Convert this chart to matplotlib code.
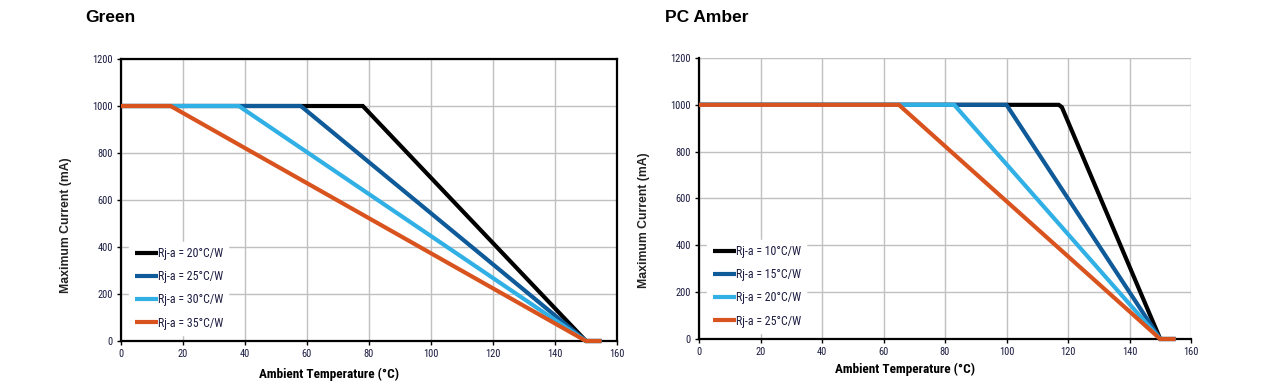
import matplotlib
matplotlib.use("Agg")
import matplotlib.pyplot as plt
from matplotlib import font_manager
from matplotlib.font_manager import FontProperties
import os

W, H = 1263, 389
fig = plt.figure(figsize=(W / 100, H / 100), dpi=100)

colors = ["#000000", "#0f5a98", "#31b0e6", "#d9531f"]

# Green chart data
green_labels = ["Rj-a = 20°C/W", "Rj-a = 25°C/W", "Rj-a = 30°C/W", "Rj-a = 35°C/W"]
green_x = [
    [0, 78, 150, 155],
    [0, 58, 150, 155],
    [0, 38, 150, 155],
    [0, 16, 150, 155],
]
green_y = [
    [1000, 1000, 0, 0],
    [1000, 1000, 0, 0],
    [1000, 1000, 0, 0],
    [1000, 1000, 0, 0],
]

# PC Amber chart data
amber_labels = ["Rj-a = 10°C/W", "Rj-a = 15°C/W", "Rj-a = 20°C/W", "Rj-a = 25°C/W"]
amber_x = [
    [0, 117, 118, 150, 155],
    [0, 100, 150, 155],
    [0, 83, 150, 155],
    [0, 65, 150, 155],
]
amber_y = [
    [1000, 1000, 990, 0, 0],
    [1000, 1000, 0, 0],
    [1000, 1000, 0, 0],
    [1000, 1000, 0, 0],
]

x_ticks = [0, 20, 40, 60, 80, 100, 120, 140, 160]
y_ticks = [0, 200, 400, 600, 800, 1000, 1200]

# find a condensed font file
files = [f.fname for f in font_manager.fontManager.ttflist]
def find(pred_list):
    for pred in pred_list:
        for fn in files:
            b = os.path.basename(fn)
            if pred(b):
                return fn
    return None

reg_file = find([
    lambda b: b.startswith("RobotoCondensed-Regular"),
    lambda b: b == "LiberationSansNarrow-Regular.ttf",
    lambda b: b == "DejaVuSansCondensed.ttf",
])
bold_file = find([
    lambda b: b.startswith("RobotoCondensed-Bold") and "Italic" not in b,
    lambda b: b == "LiberationSansNarrow-Bold.ttf",
    lambda b: b == "DejaVuSansCondensed-Bold.ttf",
])

def narrow_fp(size, bold=False):
    fn = bold_file if bold else reg_file
    if fn:
        return FontProperties(fname=fn, size=size)
    return FontProperties(family="DejaVu Sans", size=size * 0.85,
                          weight="bold" if bold else "normal")

avail = {f.name for f in font_manager.fontManager.ttflist}
bold_font = "Liberation Sans" if "Liberation Sans" in avail else "DejaVu Sans"


def make(ax_rect, xs, ys, labels, title, title_x, ylab_xy, xlab_xy, box):
    ax = fig.add_axes(ax_rect)
    for x, y, c, lab in zip(xs, ys, colors, labels):
        ax.plot(x, y, color=c, lw=3.0, solid_capstyle="butt",
                solid_joinstyle="miter", label=lab, clip_on=False)
    ax.set_xlim(0, 160)
    ax.set_ylim(0, 1200)
    ax.set_xticks(x_ticks)
    ax.set_yticks(y_ticks)
    ax.grid(True, color="#c0c0c0", lw=1.0)
    ax.set_axisbelow(True)
    ax.tick_params(length=3, width=1, pad=3, colors="black")
    tfp = narrow_fp(7.5)
    for lbl in ax.get_xticklabels() + ax.get_yticklabels():
        lbl.set_fontproperties(tfp)
        lbl.set_color("#1a1a40")
    for s in ["left", "bottom"]:
        ax.spines[s].set_linewidth(1.6)
        ax.spines[s].set_color("black")
        ax.spines[s].set_zorder(1.5)
    if box:
        for s in ["top", "right"]:
            ax.spines[s].set_linewidth(1.6)
            ax.spines[s].set_color("black")
    else:
        for s in ["top", "right"]:
            ax.spines[s].set_visible(False)
    leg = ax.legend(loc="lower left", bbox_to_anchor=(0.005, 0.0),
                    prop=narrow_fp(8.6),
                    handlelength=1.9, handletextpad=0.0, labelspacing=0.85,
                    frameon=True, fancybox=False, borderpad=0.45)
    leg.get_frame().set_facecolor("white")
    leg.get_frame().set_edgecolor("white")
    leg.get_frame().set_alpha(1.0)
    for t in leg.get_texts():
        t.set_color("#1a1a40")
    fig.text(title_x, 1 - 18 / H, title, fontsize=12.5, fontweight="bold",
             family=bold_font, va="center", ha="left")
    fig.text(ylab_xy[0], ylab_xy[1], "Maximum Current (mA)", rotation=90,
             fontsize=8.8, fontweight="bold", family=bold_font,
             ha="center", va="center", color="#222222")
    fig.text(xlab_xy[0], xlab_xy[1], "Ambient Temperature (°C)",
             fontproperties=narrow_fp(9.5, bold=True),
             ha="center", va="center")
    return ax


make([121 / W, 1 - 341 / H, (617 - 121) / W, (341 - 59) / H],
     green_x, green_y, green_labels, "Green", 85 / W,
     (66 / W, 1 - 225 / H), (329 / W, 1 - 374 / H), True)
make([699 / W, 1 - 339 / H, (1191 - 699) / W, (339 - 58) / H],
     amber_x, amber_y, amber_labels, "PC Amber", 665 / W,
     (644 / W, 1 - 220 / H), (905 / W, 1 - 369 / H), False)

fig.savefig("out.png", dpi=100, facecolor="white")
